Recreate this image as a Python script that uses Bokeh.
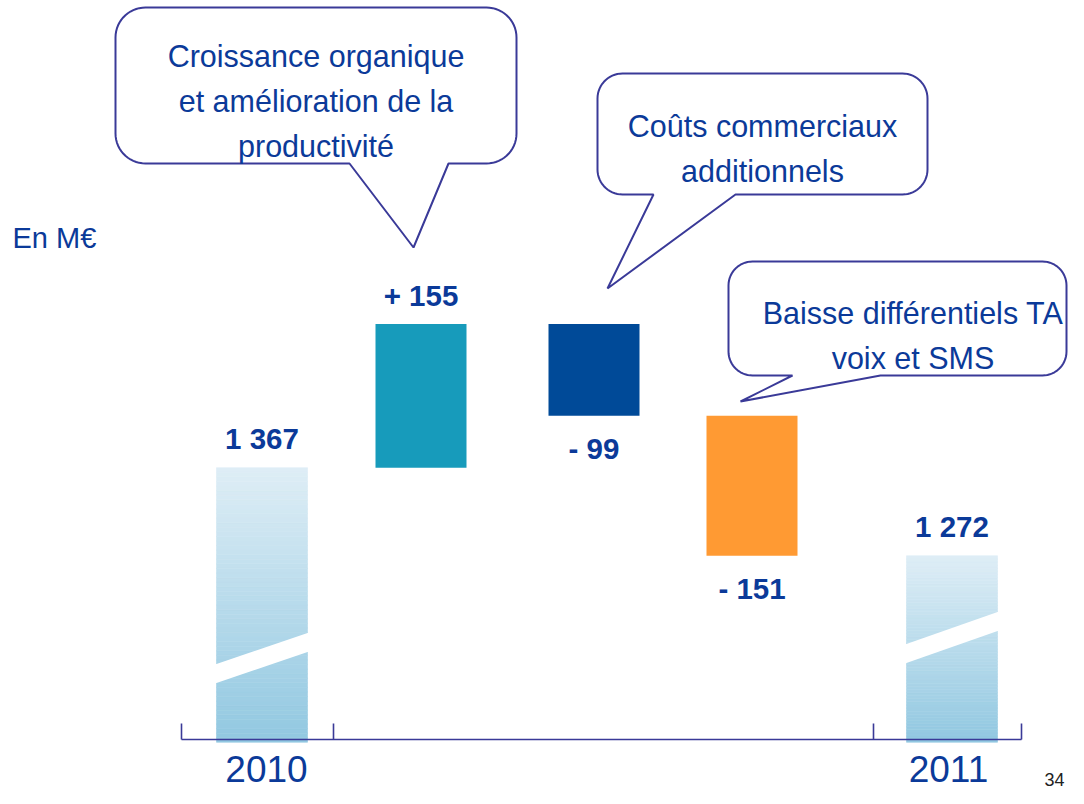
import numpy as np
from bokeh.plotting import figure
from bokeh.models import Range1d, LinearAxis, FixedTicker
from bokeh.core.properties import value
from bokeh.embed import file_html
from bokeh.resources import INLINE

# ---------------- data ----------------
categories = ["2010",
              "Croissance organique et amélioration de la productivité",
              "Coûts commerciaux additionnels",
              "Baisse différentiels TA voix et SMS",
              "2011"]
start_total = 1367
deltas = [155, -99, -151]
end_total = 1272
value_labels = ["1 367", "+ 155", "- 99", "- 151", "1 272"]
tick_labels = ["2010", "2011"]
bubble_lines = [["Croissance organique", "et amélioration de la", "productivité"],
                ["Coûts commerciaux", "additionnels"],
                ["Baisse différentiels TA", "voix et SMS"]]
unit_label = "En M€"
page_number = "34"

# ---------------- layout / style ----------------
FONT = "Liberation Sans"
TXT = "#0B3A99"
BORDER = "#3A3A98"
delta_colors = ["#179BBB", "#004A98", "#FF9A33"]
grad_bottom = np.array([146, 200, 225])
grad_top = np.array([223, 238, 246])

W, H = 1068, 788
bar_x = [261.5, 420.5, 593.5, 751.5, 951.5]   # horizontal positions of the columns
bar_w = 91
tick_pos = [266, 948]                          # label positions of the two year groups
sep_pos = [181, 333, 873, 1021]                # group separators on the axis
TOP = 1871                                     # value at top edge (broken axis)
PX_PER_UNIT = 0.927
BOTTOM = TOP - H / PX_PER_UNIT
AXIS = TOP - 739 / PX_PER_UNIT                 # where the broken axis sits

p = figure(frame_width=W, frame_height=H,
           x_range=Range1d(0, W), y_range=Range1d(BOTTOM, TOP),
           x_axis_location=None, y_axis_location=None,
           toolbar_location=None, output_backend="svg",
           min_border=0, outline_line_color=None)
p.grid.visible = False
p.extra_y_ranges = {"px": Range1d(start=H, end=0)}

# ---- waterfall computation ----
levels = [start_total]
for d in deltas:
    levels.append(levels[-1] + d)

# totals with gradient fill
def gradient_bar(cx, top, n=60):
    b0 = AXIS - 3
    edges = np.linspace(b0, top, n + 1)
    fr = (edges[:-1] - b0) / (top - b0)
    cols = []
    for f in fr:
        c = grad_bottom + (grad_top - grad_bottom) * f
        cols.append("#%02x%02x%02x" % tuple(int(round(v)) for v in c))
    p.quad(left=[cx - bar_w / 2] * n, right=[cx + bar_w / 2] * n,
           bottom=edges[:-1], top=edges[1:], fill_color=cols,
           line_color=cols, line_width=0.6)

gradient_bar(bar_x[0], start_total)
gradient_bar(bar_x[4], end_total)

# variation bars
for i, d in enumerate(deltas):
    lo, hi = sorted([levels[i], levels[i + 1]])
    p.quad(left=[bar_x[i + 1] - bar_w / 2], right=[bar_x[i + 1] + bar_w / 2],
           bottom=[lo], top=[hi], fill_color=delta_colors[i], line_color=None)

# axis break bands (white slanted stripes) in pixel space
for cx, yl, yr in [(bar_x[0], 664, 632), (bar_x[4], 644, 611)]:
    hw = bar_w / 2 + 1.5
    p.patch([cx - hw, cx + hw, cx + hw, cx - hw], [yl, yr, yr + 19, yl + 19],
            fill_color="white", line_color=None, y_range_name="px")

# value labels
above_x, above_y, above_t, below_x, below_y, below_t = [], [], [], [], [], []
above_x += [bar_x[0]]; above_y += [start_total]; above_t += [value_labels[0]]
for i, d in enumerate(deltas):
    if d > 0:
        above_x.append(bar_x[i + 1]); above_y.append(levels[i + 1]); above_t.append(value_labels[i + 1])
    else:
        below_x.append(bar_x[i + 1]); below_y.append(levels[i + 1]); below_t.append(value_labels[i + 1])
above_x += [bar_x[4]]; above_y += [end_total]; above_t += [value_labels[4]]

p.text(x=above_x, y=above_y, text=above_t, y_offset=-29,
       text_font=value(FONT), text_font_style="bold", text_font_size="29.5px",
       text_color=TXT, text_align="center", text_baseline="middle")
p.text(x=below_x, y=below_y, text=below_t, y_offset=33,
       text_font=value(FONT), text_font_style="bold", text_font_size="29.5px",
       text_color=TXT, text_align="center", text_baseline="middle")

# speech bubbles (pixel space)
def bubble(x0, x1, y0, y1, r, ta, tb, tip):
    xs, ys = [], []
    def arc(cx, cy, a0, a1):
        t = np.radians(np.linspace(a0, a1, 16))
        xs.extend(cx + r * np.cos(t)); ys.extend(cy + r * np.sin(t))
    arc(x1 - r, y0 + r, -90, 0)
    arc(x1 - r, y1 - r, 0, 90)
    xs.extend([tb, tip[0], ta]); ys.extend([y1, tip[1], y1])
    arc(x0 + r, y1 - r, 90, 180)
    arc(x0 + r, y0 + r, 180, 270)
    p.patch(xs, ys, fill_color="white", line_color=BORDER, line_width=2,
            y_range_name="px")

bubbles = [
    dict(box=(115, 516, 7, 163, 30), ta=349, tb=448, tip=(413, 247), cx=315.5, base=[55, 100, 145]),
    dict(box=(597, 927, 73, 194, 25), ta=653, tb=735, tip=(607, 288), cx=762, base=[125, 170]),
    dict(box=(728, 1066, 261, 375, 24), ta=792, tb=880, tip=(740, 401), cx=912.5, base=[312, 357]),
]
for b, lines in zip(bubbles, bubble_lines):
    x0, x1, y0, y1, r = b["box"]
    bubble(x0, x1, y0, y1, r, b["ta"], b["tb"], b["tip"])
    p.text(x=[b["cx"]] * len(lines), y=b["base"], text=lines, y_range_name="px",
           text_font=value(FONT), text_font_size="30.5px", text_color=TXT,
           text_align="center", text_baseline="alphabetic")

# unit label
p.text(x=[12], y=[237], text=[unit_label], y_range_name="px",
       text_font=value(FONT), text_font_size="29px", text_color=TXT,
       text_align="left", text_baseline="alphabetic")

# page number
p.text(x=[1064], y=[779], text=[page_number], y_range_name="px",
       text_font=value(FONT), text_font_size="18px", text_color="#222222",
       text_align="right", text_baseline="alphabetic")

# x axis: placed at the broken-axis base, year labels at group centres,
# group separators as inward ticks
ax = LinearAxis(ticker=FixedTicker(ticks=tick_pos, minor_ticks=sep_pos),
                fixed_location=AXIS)
ax.major_label_overrides = {t: l for t, l in zip(tick_pos, tick_labels)}
ax.bounds = (sep_pos[0], sep_pos[-1])
ax.axis_line_color = BORDER
ax.axis_line_width = 1.6
ax.major_tick_in = 0
ax.major_tick_out = 0
ax.minor_tick_in = 16
ax.minor_tick_out = 0
ax.minor_tick_line_color = BORDER
ax.minor_tick_line_width = 1.6
ax.major_label_standoff = 16
ax.major_label_text_font = FONT
ax.major_label_text_font_size = "37px"
ax.major_label_text_color = TXT
p.add_layout(ax, "below")

open("out.html", "w").write(file_html(p, INLINE))
